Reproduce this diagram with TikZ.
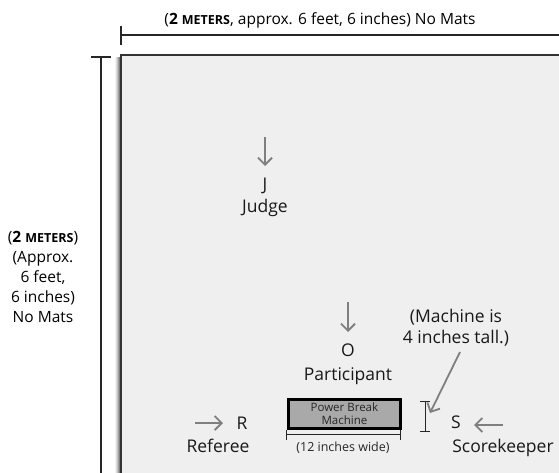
\documentclass[tikz,border=0pt]{standalone}
\usepackage{fontspec}
\setmainfont{Open Sans}
\usetikzlibrary{arrows.meta}
\definecolor{arrowgray}{HTML}{7F7F7F}
\definecolor{floorfill}{HTML}{EFEFEF}
\definecolor{machinefill}{HTML}{A9A9A9}
\tikzset{
  lbl/.style={font=\fontsize{17.5}{21}\selectfont, text=black!90, inner sep=0pt, anchor=base},
  dimtxt/.style={font=\fontsize{15.5}{20}\selectfont, text=black, inner sep=0pt, anchor=base},
  garrow/.style={draw=arrowgray, line width=1.8pt, -{Straight Barb[length=7pt,width=14pt,line width=1.8pt]}},
  dimline/.style={draw=black!85, line width=1.2pt},
}
\newcommand{\mtrs}{\textbf{2 {\fontsize{12.5}{14}\selectfont METERS}}}
\begin{document}
\begin{tikzpicture}[x=1pt,y=-1pt]
\useasboundingbox (0,0) rectangle (559,473);
\fill[white] (0,0) rectangle (559,473);
% floor shadow
\foreach \d/\o in {6/0.05,5/0.08,4/0.12,3/0.16,2/0.22,1/0.3}{
  \fill[black,opacity=\o] (121-\d,55+2) rectangle (121,473);
}
% floor
\path[fill=floorfill, draw=black!80, line width=1.5pt] (121,55) rectangle (565,480);

% top dimension
\coordinate (tA) at (121,35);
\coordinate (tB) at (565,35);
\draw[dimline] (tA) -- (tB);
\draw[dimline] (121,26) -- (121,45);
\node[dimtxt] (toplabel) at (320,25) {(\mtrs, approx. 6 feet, 6 inches) No Mats};

% left dimension
\coordinate (lA) at (101,57);
\coordinate (lB) at (101,480);
\draw[dimline] (lA) -- (lB);
\draw[dimline] (91,57) -- (111,57);
\node[dimtxt] (left1) at (43,242) {(\mtrs)};
\node[dimtxt] (left2) at (43,262) {(Approx.};
\node[dimtxt] (left3) at (43,282) {6 feet,};
\node[dimtxt] (left4) at (43,302) {6 inches)};
\node[dimtxt] (left5) at (43,322) {No Mats};

% Judge
\coordinate (jTop) at (265,137);
\node[lbl] (J) at (265,190) {J};
\node[lbl] (judge) at (265,212) {Judge};
\draw[garrow] (jTop) -- (265,166);

% Participant
\coordinate (oTop) at (348,302);
\node[lbl] (O) at (348,356) {O};
\node[lbl] (participant) at (348,380) {Participant};
\draw[garrow] (oTop) -- (348,332);

% Machine
\node[draw=black, line width=2.8pt, fill=machinefill, minimum width=112pt, minimum height=29pt, inner sep=0pt, anchor=north west,
  align=center, font=\fontsize{11.5}{13}\selectfont, text=black!85] (machine) at (287,398) {Power Break\\Machine};

% width dimension
\coordinate (wA) at (286,434);
\coordinate (wB) at (400,434);
\draw[dimline, line width=1pt] (wA) -- (wB);
\draw[dimline, line width=1pt] (286,430) -- (286,440);
\draw[dimline, line width=1pt] (400,430) -- (400,440);
\node[font=\fontsize{12.5}{14}\selectfont, text=black!85, inner sep=0pt, anchor=base] (widthlabel) at (343,451) {(12 inches wide)};

% height dimension
\coordinate (hA) at (425,401);
\coordinate (hB) at (425,431);
\draw[dimline, line width=1pt] (hA) -- (hB);
\draw[dimline, line width=1pt] (420,401) -- (430,401);
\draw[dimline, line width=1pt] (420,431) -- (430,431);
\node[lbl] (tall1) at (456,322) {(Machine is};
\node[lbl] (tall2) at (456,343) {4 inches tall.)};
\coordinate (tallArrowStart) at (460,352);
\coordinate (tallArrowEnd) at (430,413);
\draw[garrow] (tallArrowStart) -- (tallArrowEnd);

% Referee
\node[lbl] (R) at (242,429) {R};
\node[lbl] (referee) at (218,452) {Referee};
\coordinate (rStart) at (195,423);
\draw[garrow] (rStart) -- (223,423);

% Scorekeeper
\node[lbl] (S) at (456,428) {S};
\node[lbl] (score) at (503,452) {Scorekeeper};
\coordinate (sStart) at (503,425);
\draw[garrow] (sStart) -- (474,425);
\end{tikzpicture}
\end{document}
